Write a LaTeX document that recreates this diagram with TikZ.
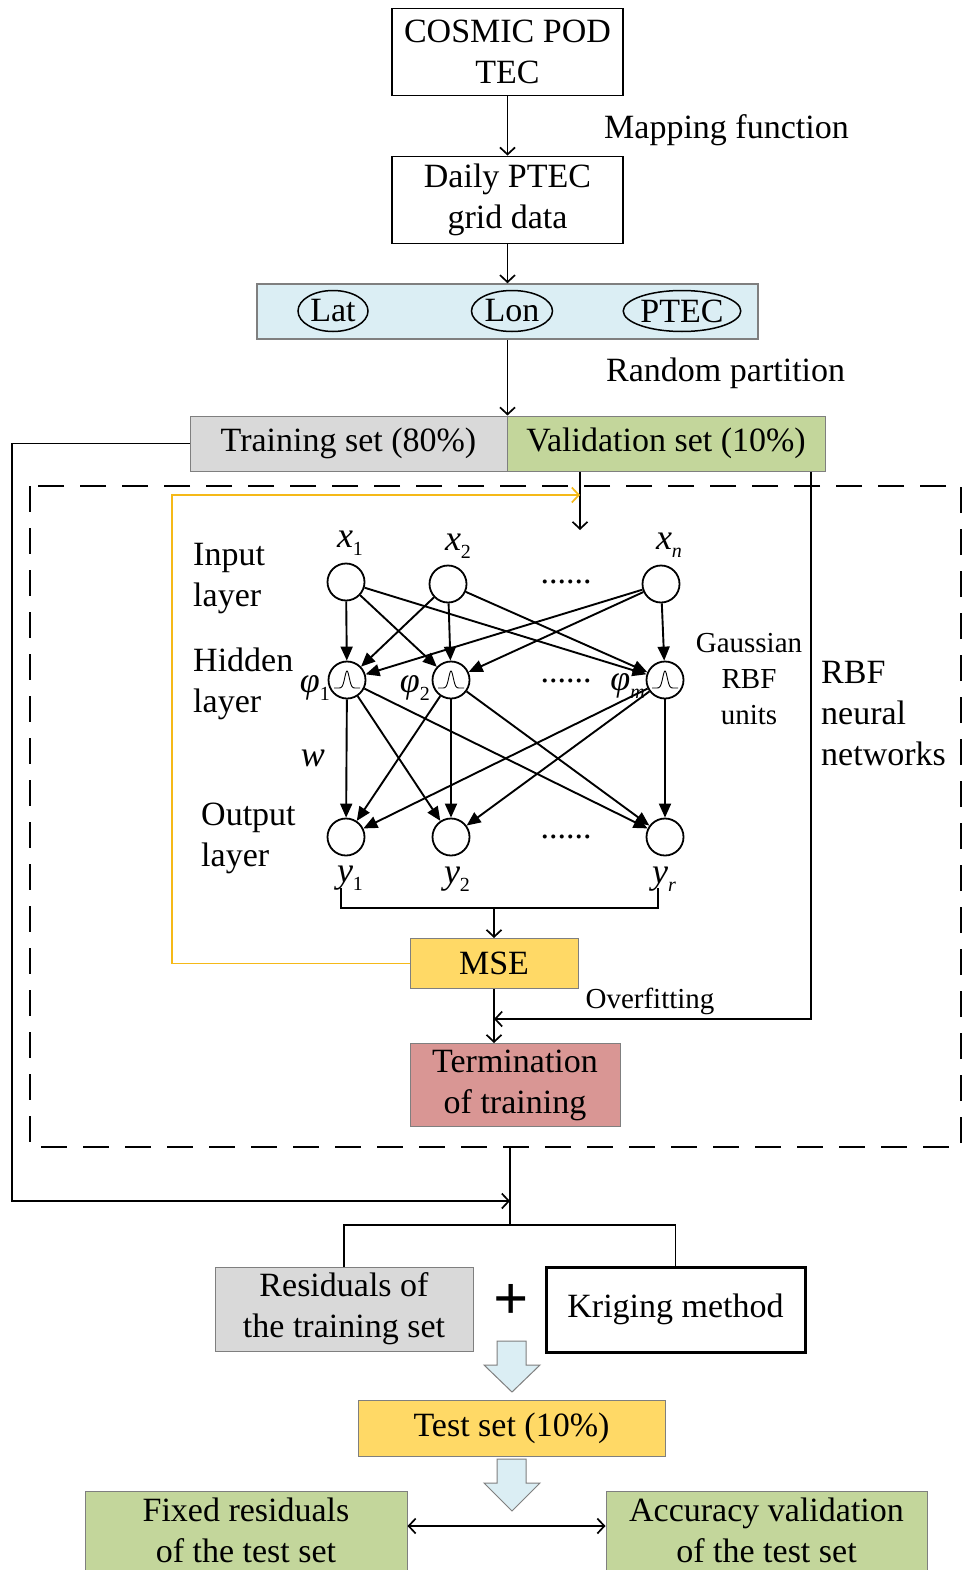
\documentclass[tikz,border=0pt]{standalone}
\usepackage{fontspec}
\setmainfont{Liberation Serif}
\usetikzlibrary{arrows.meta,shapes.geometric,calc}

\definecolor{bandblue}{HTML}{DBEEF4}
\definecolor{setgray}{HTML}{D9D9D9}
\definecolor{setgreen}{HTML}{C3D69B}
\definecolor{mseyellow}{HTML}{FFD966}
\definecolor{stoprose}{HTML}{D99694}
\definecolor{loopyellow}{HTML}{F5B918}
\definecolor{edgegray}{HTML}{7F7F7F}

% subscript for the network labels
\newcommand\idx[1]{\raisebox{-8pt}{\fontsize{20}{20}\selectfont #1}}

\tikzset{
  every node/.style={font=\fontsize{34}{41}\selectfont, inner sep=0pt},
  box/.style={draw, line width=1.8pt, align=center, minimum width=231pt, minimum height=87pt},
  filled/.style={draw=edgegray, line width=1pt, align=center},
  oval/.style={ellipse, draw, line width=1.5pt, minimum height=41pt, inner sep=0pt},
  flow/.style={line width=1.7pt, -{Straight Barb[length=7pt,width=15pt]}},
  plain/.style={line width=1.7pt},
  neuron/.style={circle, draw, line width=1.8pt, minimum size=37pt, inner sep=0pt},
  syn/.style={line width=1.9pt, -{Triangle[length=14pt,width=12pt]}},
  mlabel/.style={font=\fontsize{36}{36}\selectfont\itshape},
  dotrow/.style={font=\fontsize{34}{34}\selectfont},
  smalltext/.style={font=\fontsize{29}{36}\selectfont, align=center},
  blockarrow/.style={fill=bandblue, draw=edgegray, line width=1pt},
}

\begin{document}
\begin{tikzpicture}[x=1pt,y=-1pt]
\useasboundingbox (0,0) rectangle (964,1570);
\clip (0,0) rectangle (964,1570);
\fill[white] (0,0) rectangle (964,1570);

% ---------- data preparation ----------
\node[box] (cosmic) at (507.5,52) {COSMIC POD\\TEC};
\node[box] (daily) at (507.5,200) {Daily PTEC\\grid data};
\node[anchor=west] (mapfn) at (604,130) {Mapping function};

\node[filled, fill=bandblue, line width=1.5pt, minimum width=501pt, minimum height=55pt] (band) at (507.5,311.5) {};
\node[oval, minimum width=70pt] (lat) at (333,311) {Lat};
\node[oval, minimum width=81pt] (lon) at (512,311) {Lon};
\node[oval, minimum width=112pt] (ptec) at (682,311) {PTEC};

\node[anchor=west] (randp) at (606,373) {Random partition};

\node[filled, fill=setgray, minimum width=317pt, minimum height=55pt] (train) at (348.5,443.5) {Training set (80\%)};
\node[filled, fill=setgreen, minimum width=318pt, minimum height=55pt] (valid) at (666,443.5) {Validation set (10\%)};

\draw[flow] (cosmic) -- (daily);
\draw[flow] (daily) -- (band);
\draw[flow] (band.south -| train.north east) -- (train.north east);

% ---------- RBF network frame ----------
\draw[dash pattern=on 26pt off 16pt, line width=1.8pt] (30,486) rectangle (961,1147);

% network neurons
\node[neuron] (in1) at (346,582) {};
\node[neuron] (in2) at (448,584) {};
\node[neuron] (inn) at (661,584) {};
\node[neuron] (hid1) at (347,680) {};
\node[neuron] (hid2) at (451,680) {};
\node[neuron] (hidm) at (665,680) {};
\node[neuron] (out1) at (346,837) {};
\node[neuron] (out2) at (451,837) {};
\node[neuron] (outr) at (665,837) {};

% Gaussian kernels inside the hidden units
\foreach \h in {hid1,hid2,hidm}
  \draw[line width=0.9pt, shift={(\h)}] plot[domain=-13:13, samples=41] (\x,{8-17*exp(-(\x/3.2)^2)});

% weights
\foreach \a in {in1,in2,inn}
  \foreach \b in {hid1,hid2,hidm}
    \draw[syn] (\a) -- (\b);
\foreach \a in {hid1,hid2,hidm}
  \foreach \b in {out1,out2,outr}
    \draw[syn] (\a) -- (\b);

% neuron labels
\node[mlabel, anchor=base] (lx1) at (350,547) {x\idx{\upshape 1}};
\node[mlabel, anchor=base] (lx2) at (458,550) {x\idx{\upshape 2}};
\node[mlabel, anchor=base] (lxn) at (669,549) {x\idx{n}};
\node[mlabel, anchor=base east] (lp1) at (330,692) {φ\idx{\upshape 1}};
\node[mlabel, anchor=base east] (lp2) at (430,692) {φ\idx{\upshape 2}};
\node[mlabel, anchor=base east] (lpm) at (645,690) {φ\idx{m}};
\node[mlabel, anchor=base] (ly1) at (350,882) {y\idx{\upshape 1}};
\node[mlabel, anchor=base] (ly2) at (457,883) {y\idx{\upshape 2}};
\node[mlabel, anchor=base] (lyr) at (664,883) {y\idx{r}};
\node[mlabel, anchor=base] (lw) at (313,766) {w};

\node[dotrow, anchor=base] (d1) at (566,583) {......};
\node[dotrow, anchor=base] (d2) at (566,682) {......};
\node[dotrow, anchor=base] (d3) at (566,838) {......};

% layer names
\node[anchor=west, align=left] (linput) at (193,579) {Input\\layer};
\node[anchor=west, align=left] (lhidden) at (193,684) {Hidden\\layer};
\node[anchor=west, align=left] (loutput) at (201,838) {Output\\layer};
\node[smalltext] (lgauss) at (749,679) {Gaussian\\RBF\\units};
\node[anchor=west, align=left] (lrbf) at (821,714) {RBF\\neural\\networks};

% error evaluation
\node[filled, fill=mseyellow, minimum width=168pt, minimum height=50pt] (mse) at (494,963.5) {MSE};
\node[filled, fill=stoprose, minimum width=210pt, minimum height=83pt] (term) at (515,1085) {Termination\\of training};
\node[smalltext] (lover) at (650,1001) {Overfitting};

\coordinate (b1) at (341,888);
\coordinate (br) at (658,888);
\coordinate (bus) at (494,908);
\draw[plain] (b1) -- (341,908) -- (658,908) -- (br);
\draw[flow] (bus) -- (mse);
\draw[flow] (mse.south) -- (mse.south |- term.north);

% validation feed and overfitting check
\coordinate (feed) at (580,530);
\coordinate (loophit) at (580,495);
\coordinate (ofx) at (811,1019);
\coordinate (stopin) at (494,1019);
\draw[flow] (valid.south -| feed) -- (feed);
\draw[flow, draw=loopyellow] (mse.west) -| (172,495) -- (loophit);
\draw[flow] (valid.south -| ofx) -- (ofx) -- (stopin);

% ---------- residual correction ----------
\coordinate (netout) at (510,1147);
\coordinate (join) at (510,1201);
\coordinate (fork) at (510,1225);
\draw[flow] (train.west) -- (12,443.5) |- (join);
\draw[plain] (netout) -- (fork);

\node[filled, fill=setgray, minimum width=258pt, minimum height=84pt] (resid) at (344,1309) {Residuals of\\the training set};
\node[draw, line width=3pt, align=center, minimum width=259pt, minimum height=85pt] (krig) at (675.5,1309.5) {Kriging method};
\node[font=\fontsize{62}{62}\selectfont\bfseries] (plus) at (511,1302) {+};
\draw[plain] (resid.north) |- (fork) -| (krig.north);

\draw[blockarrow] (497,1341) -- (526,1341) -- (526,1365) -- (540,1365) -- (512,1392) -- (484,1365) -- (497,1365) -- cycle;
\node[filled, fill=mseyellow, minimum width=307pt, minimum height=56pt] (test) at (511.5,1428) {Test set (10\%)};
\draw[blockarrow] (497,1459) -- (526,1459) -- (526,1483) -- (540,1483) -- (512,1511) -- (484,1483) -- (497,1483) -- cycle;

\node[filled, fill=setgreen, anchor=north, minimum width=322pt, inner ysep=6pt, text depth=70pt] (fixed) at (246,1491) {Fixed residuals\\of the test set};
\node[filled, fill=setgreen, anchor=north, minimum width=321pt, inner ysep=6pt, text depth=70pt] (acc) at (766.5,1491) {Accuracy validation\\of the test set};
\draw[line width=1.7pt, {Straight Barb[length=7pt,width=15pt]}-{Straight Barb[length=7pt,width=15pt]}] ([yshift=-35pt]fixed.north east) -- ([yshift=-35pt]acc.north west);

\end{tikzpicture}
\end{document}
